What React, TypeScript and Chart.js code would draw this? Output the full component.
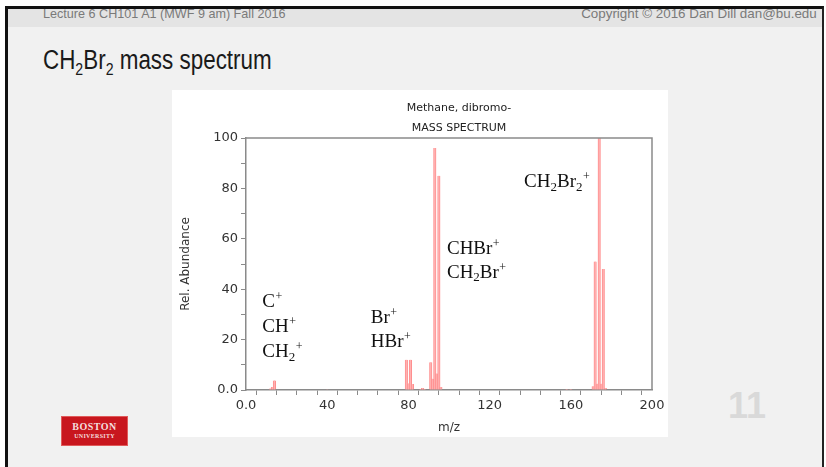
import React, { useEffect, useRef } from 'react';
import { Chart, registerables } from 'chart.js';

Chart.register(...registerables);

// ---- data ----
const mzValues = [12, 13, 14, 40, 79, 80, 81, 82, 86, 87, 88, 91, 92, 93, 94, 95, 96, 158, 160, 171, 172, 173, 174, 175, 176, 177];
const relAbundance = [0.6, 1.2, 3.8, 0.3, 12, 2.6, 12, 2.4, 0.4, 0.8, 0.4, 11, 4.5, 96, 6.5, 85, 1.2, 0.4, 0.4, 1.5, 51, 2.5, 100, 2.5, 48, 0.8];
const xTickLabels = [0, 40, 80, 120, 160, 200];
const yTickLabels = [0, 20, 40, 60, 80, 100];
const chartTitleLines = ['Methane, dibromo-', 'MASS SPECTRUM'];
const xAxisTitle = 'm/z';
const yAxisTitle = 'Rel. Abundance';
const ionLabels = ['C^+', 'CH^+', 'CH_2^+', 'Br^+', 'HBr^+', 'CHBr^+', 'CH_2Br^+', 'CH_2Br_2^+'];
const ionLabelMz = [8, 8, 8, 61.5, 61.5, 99, 99, 137];
const ionLabelAbundance = [35, 25, 15, 28.6, 19, 56, 46.5, 82.5];

const slideTitle = 'mass spectrum';
const headerLeft = 'Lecture 6 CH101 A1 (MWF 9 am) Fall 2016';
const headerRight = 'Copyright \u00A9 2016 Dan Dill dan@bu.edu';
const pageNumber = '11';

function parseRich(s: string) {
  const parts: { t: string; k: 'n' | 'sub' | 'sup' }[] = [];
  for (let i = 0; i < s.length; i++) {
    const c = s[i];
    if (c === '_' && i + 1 < s.length) { parts.push({ t: s[i + 1], k: 'sub' }); i++; }
    else if (c === '^' && i + 1 < s.length) { parts.push({ t: s[i + 1], k: 'sup' }); i++; }
    else {
      const last = parts[parts.length - 1];
      if (last && last.k === 'n') last.t += c; else parts.push({ t: c, k: 'n' });
    }
  }
  return parts;
}

const serif = '"Liberation Serif", "Times New Roman", serif';
const sans = '"Liberation Sans", Arial, sans-serif';

const decorPlugin = {
  id: 'decor',
  afterDraw(chart: any) {
    const { ctx, chartArea, scales } = chart;
    ctx.save();
    // top & right frame lines
    ctx.strokeStyle = '#8a8a8a';
    ctx.lineWidth = 1.5;
    ctx.beginPath();
    ctx.moveTo(chartArea.left, chartArea.top);
    ctx.lineTo(chartArea.right, chartArea.top);
    ctx.lineTo(chartArea.right, chartArea.bottom);
    ctx.stroke();
    // chart title
    ctx.fillStyle = '#222';
    ctx.font = '11px "DejaVu Sans", Verdana, sans-serif';
    ctx.textAlign = 'center';
    ctx.textBaseline = 'middle';
    const cx = chartArea.left + (chartArea.right - chartArea.left) / 2 + 10;
    chartTitleLines.forEach((line, i) => {
      ctx.fillText(line, cx, chartArea.top - 30 + i * 20);
    });
    // ion annotations
    ctx.textAlign = 'left';
    ctx.fillStyle = '#111';
    ionLabels.forEach((lab, i) => {
      let x = scales.x.getPixelForValue(ionLabelMz[i]);
      const y = scales.y.getPixelForValue(ionLabelAbundance[i]);
      parseRich(lab).forEach((p) => {
        if (p.k === 'n') { ctx.font = `19px ${serif}`; ctx.fillText(p.t, x, y); }
        else if (p.k === 'sub') { ctx.font = `13px ${serif}`; ctx.fillText(p.t, x, y + 5); }
        else { ctx.font = `12px ${serif}`; ctx.fillText(p.t, x + 0.5, y - 5); }
        x += ctx.measureText(p.t).width + (p.k === 'sup' ? 0.5 : 0);
      });
    });
    ctx.restore();
  },
};

function SpectrumChart() {
  const ref = useRef<HTMLCanvasElement | null>(null);
  useEffect(() => {
    if (!ref.current) return;
    const tickFont = { family: '"DejaVu Sans", Verdana, sans-serif', size: 13 };
    const chart = new Chart(ref.current, {
      type: 'bar',
      data: {
        datasets: [{
          data: mzValues.map((m, i) => ({ x: m, y: relAbundance[i] })),
          backgroundColor: '#ffb3b3',
          borderColor: '#ff8f8f',
          borderWidth: { left: 1, right: 1, top: 0, bottom: 0 },
          barThickness: 2.5,
        }],
      },
      options: {
        responsive: false,
        animation: false,
        layout: { padding: { left: 0, right: 16, top: 48, bottom: 0 } },
        plugins: { legend: { display: false }, tooltip: { enabled: false }, title: { display: false } },
        scales: {
          x: {
            type: 'linear',
            min: 0,
            max: 200,
            offset: false,
            ticks: {
              stepSize: 10,
              autoSkip: false,
              maxRotation: 0,
              padding: 3,
              color: '#333',
              font: tickFont,
              callback: (v: any) => (xTickLabels.includes(v) ? (v === 0 ? '0.0' : String(v)) : ''),
            },
            grid: { display: true, drawOnChartArea: false, drawTicks: true, tickLength: 5, color: '#8a8a8a' },
            border: { display: true, color: '#8a8a8a', width: 1.5 },
            title: { display: true, text: xAxisTitle, color: '#333', font: { family: '"DejaVu Sans", Verdana, sans-serif', size: 12 }, padding: { top: 0, bottom: 2 } },
            afterFit: (s: any) => { s.height = 47; },
          },
          y: {
            min: 0,
            max: 100,
            ticks: {
              stepSize: 10,
              autoSkip: false,
              padding: 3,
              color: '#333',
              font: tickFont,
              callback: (v: any) => (yTickLabels.includes(v) ? (v === 0 ? '0.0' : String(v)) : ''),
            },
            grid: { display: true, drawOnChartArea: false, drawTicks: true, tickLength: 5, color: '#8a8a8a' },
            border: { display: true, color: '#8a8a8a', width: 1.5 },
            title: { display: true, text: yAxisTitle, color: '#333', font: { family: '"DejaVu Sans", Verdana, sans-serif', size: 12 }, padding: { top: 7, bottom: 0 } },
            afterFit: (s: any) => { s.width = 74; },
          },
        },
      },
      plugins: [decorPlugin],
    } as any);
    return () => chart.destroy();
  }, []);
  return <canvas ref={ref} width={496} height={347} style={{ display: 'block' }} />;
}

export default function App() {
  const abs = (o: any) => ({ position: 'absolute', ...o });
  return (
    <div style={{ position: 'absolute', left: 0, top: 0, width: 826, height: 467, background: '#fff', overflow: 'hidden', fontFamily: sans }}>
      {/* slide */}
      <div style={abs({ left: 5, top: 6, width: 819, height: 480, boxSizing: 'border-box', background: '#f1f1f1', borderLeft: '3px solid #111', borderTop: '3px solid #111', borderRight: '2px solid #222' })} />
      <div style={abs({ left: 8, top: 9, width: 814, height: 18, background: '#e4e4e4' })} />
      <div style={abs({ left: 43, top: 7, height: 14, lineHeight: '14px', fontSize: 13, color: '#7a7a7a', whiteSpace: 'nowrap', transform: 'scaleX(0.97)', transformOrigin: 'left center' })}>{headerLeft}</div>
      <div style={abs({ right: 9, top: 7, height: 14, lineHeight: '14px', fontSize: 13, color: '#7a7a7a', whiteSpace: 'nowrap', transform: 'scaleX(1.03)', transformOrigin: 'right center' })}>{headerRight}</div>
      {/* title */}
      <div style={abs({ left: 43, top: 47, fontSize: 27, lineHeight: '27px', color: '#1a1a1a', whiteSpace: 'nowrap', transform: 'scaleX(0.83)', transformOrigin: 'left center' })}>
        CH<sub style={{ fontSize: 17, verticalAlign: -6, lineHeight: 0 }}>2</sub>Br<sub style={{ fontSize: 17, verticalAlign: -6, lineHeight: 0 }}>2</sub> {slideTitle}
      </div>
      {/* chart */}
      <div style={abs({ left: 172, top: 90, width: 496, height: 347, background: '#fff' })}>
        <SpectrumChart />
      </div>
      {/* logo */}
      <div style={abs({ left: 61, top: 416, width: 67, height: 30, boxSizing: 'border-box', background: '#c8161e', border: '1px solid #e05a5a', color: '#f4dede', fontFamily: serif, fontWeight: 'bold', textAlign: 'center' })}>
        <div style={{ fontSize: 10, lineHeight: '10px', marginTop: 5, letterSpacing: 0.5 }}>BOSTON</div>
        <div style={{ fontSize: 6, lineHeight: '8px', letterSpacing: 0.3 }}>UNIVERSITY</div>
      </div>
      {/* page number */}
      <div style={abs({ left: 728, top: 388, fontSize: 36, lineHeight: '36px', fontWeight: 'bold', color: '#d9d9d9' })}>{pageNumber}</div>
    </div>
  );
}
